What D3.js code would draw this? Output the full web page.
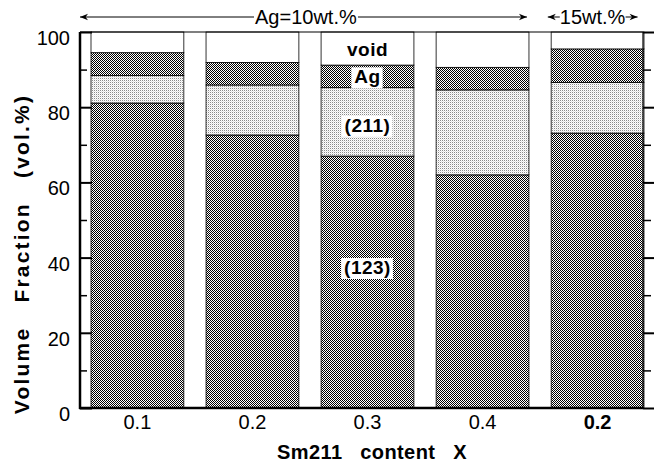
<!DOCTYPE html>
<html>
<head>
<meta charset="utf-8">
<script src="https://cdn.jsdelivr.net/npm/d3@7"></script>
<style>
  body { margin: 0; background: #fff; }
  text { font-family: "Liberation Sans", Arial, Helvetica, sans-serif; }
</style>
</head>
<body>
<div id="chart"></div>
<script>
// bar labels (x = Sm211 content), last bar is the 15wt.% Ag sample
var xLabels = ["0.1", "0.2", "0.3", "0.4", "0.2"];
var boldLabel = [false, false, false, false, true];

// volume fractions (vol.%) per phase, bottom to top
var phase123 = [81.1, 72.6, 67.0, 62.0, 73.1];
var phase211 = [7.3, 13.3, 18.2, 22.6, 13.5];
var phaseAg = [6.1, 6.0, 6.0, 6.0, 8.9];

var yTicks = [0, 20, 40, 60, 80, 100];
var yMinorTicks = [10, 30, 50, 70, 90];

// Ag content groups along the top
var groupLabels = ["Ag=10wt.%", "15wt.%"];
var groupFirst = [0, 4];
var groupLast = [3, 4];

var svgWidth = 654;
var svgHeight = 466;

var margin = { top: 32, right: 11, bottom: 58, left: 80 };
var width = svgWidth - margin.left - margin.right;
var height = svgHeight - margin.top - margin.bottom;

var svg = d3.select("#chart")
  .append("svg")
  .attr("width", svgWidth)
  .attr("height", svgHeight);

// hatch patterns like the printed figure
var defs = svg.append("defs");
var dark = defs.append("pattern")
  .attr("id", "dark")
  .attr("width", 2).attr("height", 2)
  .attr("patternUnits", "userSpaceOnUse");
dark.append("rect").attr("width", 2).attr("height", 2).attr("fill", "#ffffff");
dark.append("rect").attr("x", 0).attr("y", 0).attr("width", 1).attr("height", 1).attr("fill", "#000");
dark.append("rect").attr("x", 1).attr("y", 1).attr("width", 1).attr("height", 1).attr("fill", "#000");

var light = defs.append("pattern")
  .attr("id", "light")
  .attr("width", 2).attr("height", 2)
  .attr("patternUnits", "userSpaceOnUse");
light.append("rect").attr("width", 2).attr("height", 2).attr("fill", "#ffffff");
light.append("rect").attr("x", 0).attr("y", 0).attr("width", 1).attr("height", 1).attr("fill", "#8a8a8a");
light.append("rect").attr("x", 1).attr("y", 1).attr("width", 1).attr("height", 1).attr("fill", "#e0e0e0");

defs.append("marker")
  .attr("id", "head")
  .attr("viewBox", "0 0 10 10")
  .attr("refX", 10).attr("refY", 5)
  .attr("markerWidth", 12).attr("markerHeight", 8)
  .attr("markerUnits", "userSpaceOnUse")
  .attr("orient", "auto-start-reverse")
  .append("path")
  .attr("d", "M0,1 L10,5 L0,9 L3,5 Z")
  .attr("fill", "#000");

var chartGroup = svg.append("g")
  .attr("transform", `translate(${margin.left}, ${margin.top})`);

// scales
var idx = d3.range(xLabels.length);
var x = d3.scaleBand()
  .domain(idx)
  .range([11, width + 1])
  .paddingInner(0.193)
  .paddingOuter(0);

var y = d3.scaleLinear()
  .domain([0, 100])
  .range([height, 0]);

// stacked data
var table = idx.map(function(i) {
  return { i: i, p123: phase123[i], p211: phase211[i], pAg: phaseAg[i],
    pVoid: 100 - phase123[i] - phase211[i] - phaseAg[i] };
});
var keys = ["p123", "p211", "pAg", "pVoid"];
var fills = { p123: "url(#dark)", p211: "url(#light)", pAg: "url(#dark)", pVoid: "#fff" };
var series = d3.stack().keys(keys)(table);

chartGroup.selectAll("g.layer")
  .data(series)
  .enter()
  .append("g")
  .attr("class", "layer")
  .attr("fill", d => fills[d.key])
  .selectAll("rect")
  .data(d => d)
  .enter()
  .append("rect")
  .attr("x", d => x(d.data.i))
  .attr("y", d => y(d[1]))
  .attr("width", x.bandwidth())
  .attr("height", d => y(d[0]) - y(d[1]))
  .attr("stroke", "#000")
  .attr("stroke-width", 0.8);

// frame: top and right lines
chartGroup.append("line")
  .attr("x1", 0).attr("x2", width).attr("y1", 0).attr("y2", 0)
  .attr("stroke", "#000").attr("stroke-width", 1.2);
chartGroup.append("line")
  .attr("x1", width).attr("x2", width).attr("y1", 0).attr("y2", height)
  .attr("stroke", "#000").attr("stroke-width", 1.2);

// left axis, ticks pointing inside
var leftAxis = chartGroup.append("g")
  .call(d3.axisRight(y).tickValues(yTicks).tickSize(12).tickFormat(""));
leftAxis.select(".domain").remove();
leftAxis.selectAll(".tick line").attr("stroke-width", 2);
var leftMinor = chartGroup.append("g")
  .call(d3.axisRight(y).tickValues(yMinorTicks).tickSize(7).tickFormat(""));
leftMinor.select(".domain").remove();
leftMinor.selectAll(".tick line").attr("stroke-width", 1.5);

chartGroup.selectAll("text.ylab")
  .data(yTicks)
  .enter()
  .append("text")
  .attr("class", "ylab")
  .attr("x", -10)
  .attr("y", d => y(d) + 13)
  .attr("text-anchor", "end")
  .style("font-size", "20px")
  .text(d => d);

// right axis ticks pointing outside
var rightAxis = chartGroup.append("g")
  .attr("transform", `translate(${width}, 0)`)
  .call(d3.axisRight(y).tickValues(yTicks).tickSize(11).tickFormat(""));
rightAxis.select(".domain").remove();
rightAxis.selectAll(".tick line").attr("stroke-width", 2);
var rightMinor = chartGroup.append("g")
  .attr("transform", `translate(${width}, 0)`)
  .call(d3.axisRight(y).tickValues(yMinorTicks).tickSize(8).tickFormat(""));
rightMinor.select(".domain").remove();
rightMinor.selectAll(".tick line").attr("stroke-width", 1.5);

// axis lines (thick)
chartGroup.append("line")
  .attr("x1", 0).attr("x2", 0).attr("y1", 0).attr("y2", height + 1)
  .attr("stroke", "#000").attr("stroke-width", 2.5);
chartGroup.append("line")
  .attr("x1", -1).attr("x2", width).attr("y1", height).attr("y2", height)
  .attr("stroke", "#000").attr("stroke-width", 2.5);

// x tick labels
chartGroup.selectAll("text.xlab")
  .data(idx)
  .enter()
  .append("text")
  .attr("class", "xlab")
  .attr("x", d => x(d) + x.bandwidth() / 2)
  .attr("y", height + 21)
  .attr("text-anchor", "middle")
  .style("font-size", "20px")
  .style("font-weight", d => boldLabel[d] ? "bold" : "normal")
  .text(d => xLabels[d]);

// axis titles
chartGroup.append("text")
  .attr("x", 292)
  .attr("y", height + 51)
  .attr("text-anchor", "middle")
  .style("font-size", "20px")
  .style("font-weight", "bold")
  .style("letter-spacing", "0.4px")
  .style("white-space", "pre")
  .text("Sm211   content   X");

chartGroup.append("text")
  .attr("transform", "rotate(-90)")
  .attr("x", -(height / 2) - 34)
  .attr("y", -51)
  .attr("text-anchor", "middle")
  .style("font-size", "21px")
  .style("font-weight", "bold")
  .style("letter-spacing", "2.2px")
  .style("white-space", "pre")
  .text("Volume   Fraction   (vol.%)");

// phase labels inside the 0.3 bar
var labelBar = 2;
var cx = x(labelBar) + x.bandwidth() / 2;
var phaseLabels = [
  { text: "(123)", v: 37.5, box: true },
  { text: "(211)", v: phase123[labelBar] + phase211[labelBar] / 2 - 0.8, box: true },
  { text: "Ag", v: phase123[labelBar] + phase211[labelBar] + phaseAg[labelBar] / 2, box: true },
  { text: "void", v: (100 + phase123[labelBar] + phase211[labelBar] + phaseAg[labelBar]) / 2, box: false }
];
phaseLabels.forEach(function(p) {
  var t = chartGroup.append("text")
    .attr("x", cx)
    .attr("y", y(p.v) + 7)
    .attr("text-anchor", "middle")
    .style("font-size", "19px")
    .style("font-weight", "bold")
    .style("letter-spacing", "0.5px")
    .text(p.text);
  if (p.box) {
    var b = t.node().getBBox();
    chartGroup.insert("rect", function() { return t.node(); })
      .attr("x", b.x - 3)
      .attr("y", b.y + 1)
      .attr("width", b.width + 5)
      .attr("height", b.height)
      .attr("fill", "#fff");
  }
});

// top group annotation with arrows
var topY = -15;
groupLabels.forEach(function(lab, g) {
  var x0 = x(groupFirst[g]);
  var x1 = x(groupLast[g]) + x.bandwidth();
  var t = chartGroup.append("text")
    .attr("y", topY + 7)
    .attr("text-anchor", "middle")
    .style("font-size", "20px")
    .text(lab);
  if (g === 0) {
    var left = x0 - 11;
    var right = x1 - 2;
    var mid = x(1) + x.bandwidth() + 7;
    t.attr("x", mid);
    var b = t.node().getBBox();
    chartGroup.append("line")
      .attr("x1", b.x - 1).attr("x2", left)
      .attr("y1", topY).attr("y2", topY)
      .attr("stroke", "#000").attr("stroke-width", 1)
      .attr("marker-end", "url(#head)");
    chartGroup.append("line")
      .attr("x1", b.x + b.width + 1).attr("x2", right)
      .attr("y1", topY).attr("y2", topY)
      .attr("stroke", "#000").attr("stroke-width", 1)
      .attr("marker-end", "url(#head)");
  } else {
    t.attr("x", (x0 + x1) / 2 - 5);
    var b2 = t.node().getBBox();
    chartGroup.append("line")
      .attr("x1", b2.x).attr("x2", b2.x - 12)
      .attr("y1", topY).attr("y2", topY)
      .attr("stroke", "#000").attr("stroke-width", 1)
      .attr("marker-end", "url(#head)");
    chartGroup.append("line")
      .attr("x1", b2.x + b2.width).attr("x2", b2.x + b2.width + 12)
      .attr("y1", topY).attr("y2", topY)
      .attr("stroke", "#000").attr("stroke-width", 1)
      .attr("marker-end", "url(#head)");
  }
});
</script>
</body>
</html>
